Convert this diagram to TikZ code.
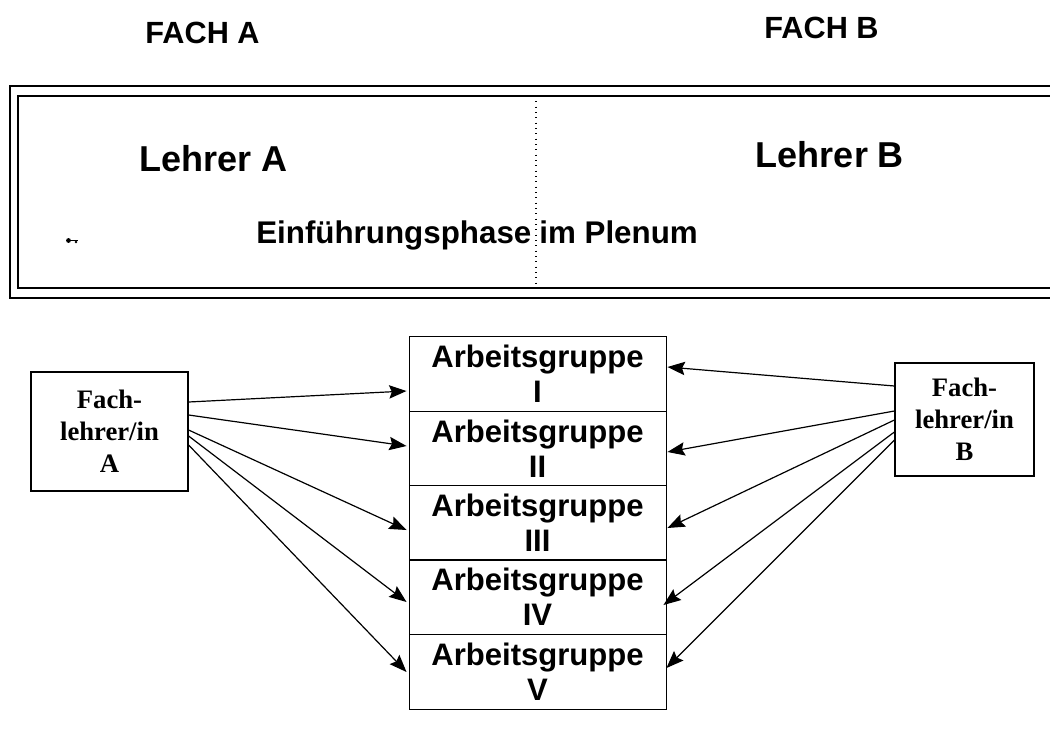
\documentclass[tikz,border=0pt]{standalone}
\usepackage{fontspec}
\setmainfont{Liberation Serif}
\setsansfont{Liberation Sans}
\usetikzlibrary{calc,arrows.meta}

\tikzset{
  head/.style={font=\sffamily\bfseries\fontsize{23}{27}\selectfont, inner sep=0pt},
  teacher/.style={font=\sffamily\bfseries\fontsize{27}{32}\selectfont, inner sep=0pt},
  phase/.style={font=\sffamily\bfseries\fontsize{23.5}{28}\selectfont, inner sep=0pt},
  group/.style={draw, line width=0.7pt, inner sep=0pt, align=center,
    minimum width=192.75pt, minimum height=56pt,
    font=\sffamily\bfseries\fontsize{23.3}{26}\selectfont},
  subject/.style={draw, line width=0.9pt, inner sep=0pt, align=center,
    font=\rmfamily\bfseries\fontsize{20}{24}\selectfont},
  link/.style={line width=0.9pt, -{Stealth[length=13pt,width=10pt,inset=2pt]}},
  frameline/.style={line width=1.6pt}
}

\begin{document}
\begin{tikzpicture}[x=0.75pt,y=-0.75pt]
\useasboundingbox (0,0) rectangle (1050,736);

% subject headings
\node[head,anchor=base] (fachA) at (202.5,43) {FACH A};
\node[head,anchor=base] (fachB) at (821.5,38) {FACH B};

% plenum frame (double line, open to the right)
\draw[frameline,line width=1.3pt] (1060,86) -| (10,298) -- (1060,298);
\draw[frameline] (1060,96) -| (18,288) -- (1060,288);
\draw[line width=0.8pt, dash pattern=on 0.8pt off 3.2pt] (536,96) -- (536,288);

\node[teacher,anchor=base] (lehrerA) at (213.5,171) {Lehrer A};
\node[teacher,anchor=base] (lehrerB) at (830,167) {Lehrer B};
\node[phase,anchor=base west] (plenum) at (256,243) {Einführungsphase\hspace{6pt}im Plenum};

% small key mark
\fill (68.5,240.5) circle (2.4);
\draw[line width=1.4pt] (70,240.5) -- (78,240.5);
\fill (76,242) circle (1.3);

% working groups
\node[group] (g1) at (537.5,374)   {Arbeitsgruppe\\I};
\node[group] (g2) at (537.5,448.5) {Arbeitsgruppe\\II};
\node[group] (g3) at (537.5,523)   {Arbeitsgruppe\\III};
\node[group] (g4) at (537.5,597)   {Arbeitsgruppe\\IV};
\node[group] (g5) at (537.5,672)   {Arbeitsgruppe\\V};

% subject teachers
\node[subject, minimum width=117.75pt, minimum height=89.25pt] (fa) at (109.5,431.5) {Fach-\\lehrer/in\\A};
\node[subject, minimum width=104.25pt, minimum height=84.75pt] (fb) at (964.5,419.5) {Fach-\\lehrer/in\\B};

% teacher A to every group
\draw[link] ($(fa.east)+(0,-29.5)$) -- ($(g1.west)+(-2,17)$);
\draw[link] ($(fa.east)+(0,-16.5)$) -- ($(g2.west)+(-2,-2.5)$);
\draw[link] ($(fa.east)+(0,-1.5)$)  -- ($(g3.west)+(-2,7)$);
\draw[link] ($(fa.east)+(0,4.5)$)   -- ($(g4.west)+(-2,5)$);
\draw[link] ($(fa.east)+(0,13.5)$)  -- ($(g5.west)+(-2,0)$);

% teacher B to every group
\draw[link] ($(fb.west)+(0,-33.5)$) -- ($(g1.east)+(1,-7)$);
\draw[link] ($(fb.west)+(0,-8.5)$)  -- ($(g2.east)+(1,3.5)$);
\draw[link] ($(fb.west)+(0,0.5)$)   -- ($(g3.east)+(1,5)$);
\draw[link] ($(fb.west)+(0,12.5)$)  -- ($(g4.east)+(-3,8)$);
\draw[link] ($(fb.west)+(0,20.5)$)  -- ($(g5.east)+(0,-4)$);
\end{tikzpicture}
\end{document}
